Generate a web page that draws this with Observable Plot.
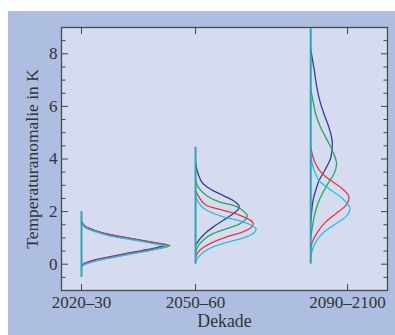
<!DOCTYPE html>
<html>
<head>
<meta charset="utf-8">
<script src="https://cdn.jsdelivr.net/npm/d3@7"></script>
<script src="https://cdn.jsdelivr.net/npm/@observablehq/plot@0.6"></script>
<style>
  html, body { margin: 0; padding: 0; background: #ffffff; }
  #chart { position: absolute; left: 8px; top: 11px; }
</style>
</head>
<body>
<div id="chart"></div>
<script>
// ---- data ----
const decadeLabels = ["2020–30", "2050–60", "2090–2100"];
const tickYears = [2020, 2050, 2090];
const baseYears = [2020, 2050, 2080.3];          // baseline (zero density) of each decade
const stemLow = [-0.5, 0, 0];
const stemHigh = [2.0, 4.45, 8.95];
const yMajor = [0, 2, 4, 6, 8];
const yMinor = [-0.5, 0.5, 1, 1.5, 2.5, 3, 3.5, 4.5, 5, 5.5, 6.5, 7, 7.5, 8.5];
const seriesNames = ["s1", "s2", "s3", "s4"];
const seriesColors = ["#383c96", "#1daa5b", "#ea3338", "#22bdf0"];

// curves: [temperature anomaly (K), density width (in decade-axis years)]
const d2020_s1 = [[-0.03,0],[0.05,1.1],[0.17,3.7],[0.27,7.0],[0.40,11.5],[0.52,15.9],[0.64,20.0],[0.74,22.3],[0.80,20.0],[0.91,15.9],[1.02,11.5],[1.14,7.0],[1.28,3.6],[1.43,1.1],[1.62,0]];
const d2020_s2 = [[-0.06,0],[0.02,1.1],[0.14,3.8],[0.24,7.3],[0.37,12.0],[0.49,16.6],[0.61,20.9],[0.71,23.3],[0.77,20.9],[0.88,16.6],[0.99,12.0],[1.11,7.3],[1.25,3.8],[1.40,1.1],[1.59,0]];
const d2020_s3 = [[-0.05,0],[0.03,1.1],[0.15,3.7],[0.25,7.1],[0.38,11.6],[0.50,16.1],[0.62,20.3],[0.72,22.6],[0.78,20.3],[0.89,16.1],[1.00,11.6],[1.12,7.1],[1.26,3.7],[1.41,1.1],[1.60,0]];
const d2020_s4 = [[-0.08,0],[0.00,1.1],[0.12,3.7],[0.22,7.1],[0.35,11.6],[0.47,16.1],[0.59,20.2],[0.69,22.4],[0.75,20.2],[0.86,16.1],[0.97,11.6],[1.09,7.1],[1.23,3.7],[1.38,1.1],[1.57,0]];

const d2050_s1 = [[0.70,0],[0.78,0.3],[1.10,2.0],[1.41,4.6],[1.67,7.3],[1.92,9.9],[2.17,11.5],[2.42,9.9],[2.61,7.3],[2.80,4.6],[3.06,2.0],[3.43,0.7],[3.90,0]];
const d2050_s2 = [[0.45,0],[0.59,0.3],[0.91,2.0],[1.16,4.6],[1.35,8.2],[1.54,11.7],[1.86,13.6],[2.04,12.4],[2.22,10.3],[2.36,6.4],[2.61,2.9],[2.93,0.7],[3.25,0]];
const d2050_s3 = [[0.28,0],[0.53,1.1],[0.78,3.8],[1.04,8.2],[1.23,12.5],[1.54,15.2],[1.86,11.7],[2.05,7.3],[2.23,2.9],[2.61,0.7],[2.80,0]];
const d2050_s4 = [[0.09,0],[0.40,1.6],[0.66,4.6],[0.86,9.0],[1.04,13.4],[1.32,15.9],[1.61,12.5],[1.80,7.3],[2.05,2.9],[2.36,0.7],[2.61,0]];

const d2090_s1 = [[1.60,0],[1.92,0.2],[2.42,0.6],[2.80,1.3],[3.18,2.2],[3.62,3.9],[4.06,5.3],[4.57,5.7],[5.20,4.8],[5.71,3.5],[6.21,2.4],[6.66,1.7],[7.41,0.9],[8.17,0]];
const d2090_s2 = [[1.00,0],[1.29,0.3],[1.92,1.1],[2.42,2.2],[2.80,3.5],[3.18,5.0],[3.43,6.1],[3.81,6.8],[4.19,6.1],[4.70,4.4],[5.20,2.6],[5.71,1.3],[6.21,0.6],[6.66,0]];
const d2090_s3 = [[0.60,0],[0.84,0.4],[1.22,1.8],[1.60,3.9],[1.92,6.6],[2.23,9.2],[2.55,10.1],[2.87,8.3],[3.18,5.3],[3.43,3.1],[3.81,1.3],[4.19,0.4],[4.44,0]];
const d2090_s4 = [[0.30,0],[0.47,0.3],[0.84,1.3],[1.22,3.5],[1.54,6.6],[1.80,9.2],[2.11,10.3],[2.55,7.9],[2.87,4.8],[3.18,2.2],[3.43,1.3],[3.81,0.4],[4.32,0]];

const curveSets = [
  [d2020_s1, d2020_s2, d2020_s3, d2020_s4],
  [d2050_s1, d2050_s2, d2050_s3, d2050_s4],
  [d2090_s1, d2090_s2, d2090_s3, d2090_s4]
];

// ---- tables for the library ----
const rows = [];
curveSets.forEach((set, di) => {
  set.forEach((pts, si) => {
    pts.forEach(([t, w]) => rows.push({decade: decadeLabels[di], series: seriesNames[si], key: di + "-" + si, T: t, x: baseYears[di] + w}));
  });
});
const stems = baseYears.map((b, i) => ({x: b, lo: stemLow[i], hi: stemHigh[i]}));

const inner = "#d6dcef";
const ink = "#333333";

const chart = Plot.plot({
  width: 387,
  height: 324,
  marginLeft: 53,
  marginRight: 8,
  marginTop: 16,
  marginBottom: 45,
  style: {background: "#aebee1", fontFamily: "Liberation Serif", fontSize: "17px", color: ink},
  x: {domain: [2014.74, 2100.5]},
  y: {domain: [-1, 9]},
  color: {domain: seriesNames, range: seriesColors},
  marks: [
    Plot.frame({fill: inner}),
    Plot.line(rows, {x: "x", y: "T", z: "key", stroke: "series", strokeWidth: 1.3, curve: "monotone-y"}),
    Plot.ruleX(stems, {x: "x", y1: "lo", y2: "hi", stroke: "#2aa3b8", strokeWidth: 2}),
    // y tick labels
    Plot.axisY(yMajor, {anchor: "left", tickSize: 0, tickPadding: 4, label: null}),
    // y title
    Plot.axisY(yMajor, {anchor: "left", tickSize: 0, text: null, fontSize: 17.5, label: "Temperaturanomalie in K", labelAnchor: "center", labelOffset: 36, labelArrow: "none"}),
    // inward ticks left/right
    Plot.axisY(yMajor, {anchor: "left", tickSize: -7, text: null, label: null, stroke: "#444"}),
    Plot.axisY(yMinor, {anchor: "left", tickSize: -4.5, text: null, label: null, stroke: "#444"}),
    Plot.axisY(yMajor, {anchor: "right", tickSize: -7, text: null, label: null, stroke: "#444"}),
    Plot.axisY(yMinor, {anchor: "right", tickSize: -4.5, text: null, label: null, stroke: "#444"}),
    // x tick labels
    Plot.axisX(tickYears, {anchor: "bottom", tickSize: 0, tickPadding: 5, tickFormat: d => decadeLabels[tickYears.indexOf(d)], label: null}),
    // x title
    Plot.axisX(tickYears, {anchor: "bottom", tickSize: 0, text: null, fontSize: 17.8, label: "Dekade", labelAnchor: "center", labelOffset: 36, labelArrow: "none"}),
    Plot.axisX(tickYears, {anchor: "bottom", tickSize: -6, text: null, label: null, stroke: "#444"}),
    Plot.axisX(tickYears, {anchor: "top", tickSize: -6, text: null, label: null, stroke: "#444"}),
    Plot.frame({stroke: "#4a4a4a", strokeWidth: 1.3})
  ]
});
document.getElementById("chart").appendChild(chart);
</script>
</body>
</html>
